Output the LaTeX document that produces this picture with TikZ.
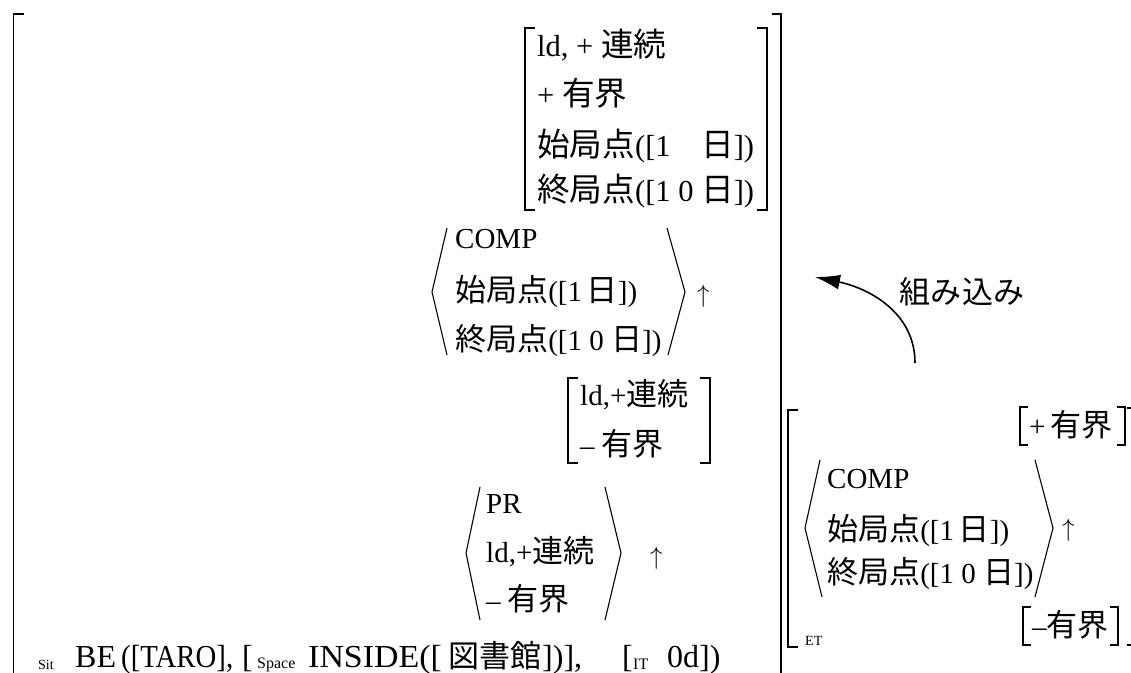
\documentclass[tikz,border=0pt]{standalone}
\usepackage{fontspec}
\usepackage{graphicx}
\setmainfont{Liberation Serif}
\newfontfamily\jfont[Scale=1.07]{Noto Sans CJK JP}
\newcommand{\J}[1]{{\jfont #1}}
\newcommand{\nar}[1]{\scalebox{0.9}[1]{#1}}
\newcommand{\wid}[1]{\scalebox{1.06}[1]{#1}}
\usetikzlibrary{arrows.meta}

\begin{document}
\begin{tikzpicture}[x=1pt,y=-1pt,
  txt/.style={anchor=base west,inner sep=0pt,font=\fontsize{29}{34}\selectfont},
  ttxt/.style={txt,font=\fontsize{30.5}{36}\selectfont},
  big/.style={anchor=base west,inner sep=0pt,font=\fontsize{32}{38}\selectfont},
  sub/.style={anchor=base west,inner sep=0pt,font=\fontsize{16}{19}\selectfont},
  brk/.style={draw,line width=1.1pt},
  obrk/.style={draw,line width=1.5pt}]
\useasboundingbox (0,0) rectangle (1131,672);

% outer brackets
\path[obrk] (24,14) -- (13.5,14) -- (13.5,680);
\path[obrk] (772,14) -- (781,14) -- (781,680);

% top feature bracket
\path[brk] (535,28) -- (525,28) -- (525,210) -- (535,210);
\path[brk] (757,28) -- (767,28) -- (767,210) -- (757,210);
\node[ttxt] (t1) at (537,56) {ld, + \J{連続}};
\node[ttxt] (t2) at (537,105) {+ \J{有界}};
\node[ttxt] (t3) at (537,156) {\J{始局点}([1\enspace\enspace\J{日}])};
\node[ttxt] (t4) at (537,201) {\J{終局点}([1 0 \J{日}])};

% COMP
\path[brk] (447,228) -- (432,292) -- (447,355);
\path[brk] (667,228) -- (685,292) -- (668,355);
\node[txt] (c1) at (455,248) {COMP};
\node[txt] (c2) at (455,301) {\J{始局点}([1\,\J{日}])};
\node[txt] (c3) at (455,350) {\J{終局点}([1 0 \J{日}])};
\node[txt] (up1) at (697,302) {$\uparrow$};

% second bracket
\path[brk] (578,378) -- (568,378) -- (568,463) -- (578,463);
\path[brk] (700,378) -- (710,378) -- (710,463) -- (700,463);
\node[txt] (s1) at (580,405) {ld,+\J{連続}};
\node[txt] (s2) at (580,455) {– \J{有界}};

% PR
\path[brk] (480,487) -- (466,553) -- (480,620);
\path[brk] (605,487) -- (621,553) -- (605,620);
\node[txt] (p1) at (486,513) {PR};
\node[txt] (p2) at (486,562) {ld,+\J{連続}};
\node[txt] (p3) at (486,610) {– \J{有界}};
\node[txt] (up2) at (650,564) {$\uparrow$};

% bottom line
\node[sub,font=\fontsize{14}{16}\selectfont] (sit) at (38,669) {Sit};
\node[big] (be) at (75,667) {BE};
\node[big] (taro) at (121,667) {\nar{([TARO],}};
\node[big] (lb1) at (242,667) {[};
\node[sub] (spc) at (257,668) {Space};
\node[big] (ins) at (308,667) {\wid{INSIDE([}};
\node[big,font=\fontsize{29}{34}\selectfont] (lib) at (448,667) {\J{図書館}};
\node[big] (rb) at (542,667) {])],};
\node[big] (lb2) at (622,667) {[};
\node[sub] (it) at (633,669) {IT};
\node[big] (zd) at (667,667) {0d])};

% ET bracket
\path[brk] (798,410) -- (788,410) -- (788,647) -- (798,647);
\path[brk] (1127,408) -- (1134,408) -- (1134,645) -- (1127,645);
\node[sub,font=\fontsize{14}{16}\selectfont] (et) at (805,645) {ET};

\path[brk] (1028,407) -- (1020,407) -- (1020,445) -- (1028,445);
\path[brk] (1117,407) -- (1125,407) -- (1125,445) -- (1117,445);
\node[txt] (e0) at (1029,436) {+\,\J{有界}};

\path[brk] (820,460) -- (805,528) -- (822,597);
\path[brk] (1035,460) -- (1053,528) -- (1035,597);
\node[txt] (e1) at (827,488) {COMP};
\node[txt] (e2) at (827,540) {\J{始局点}([1\,\J{日}])};
\node[txt] (e3) at (827,583) {\J{終局点}([1 0 \J{日}])};
\node[txt] (up3) at (1062,536) {$\uparrow$};

\path[brk] (1031,607) -- (1023,607) -- (1023,645) -- (1031,645);
\path[brk] (1110,607) -- (1118,607) -- (1118,645) -- (1110,645);
\node[txt] (e4) at (1032,636) {–\J{有界}};

% embedding arrow
\coordinate (from) at (915,363);
\coordinate (to) at (815,277);
\draw[line width=1.6pt,-{Latex[length=25pt,width=15pt]}] (from) .. controls (915,312) and (868,288) .. (to);
\node[txt,anchor=center] (lab) at (962,292) {\J{組み込み}};
\end{tikzpicture}
\end{document}
